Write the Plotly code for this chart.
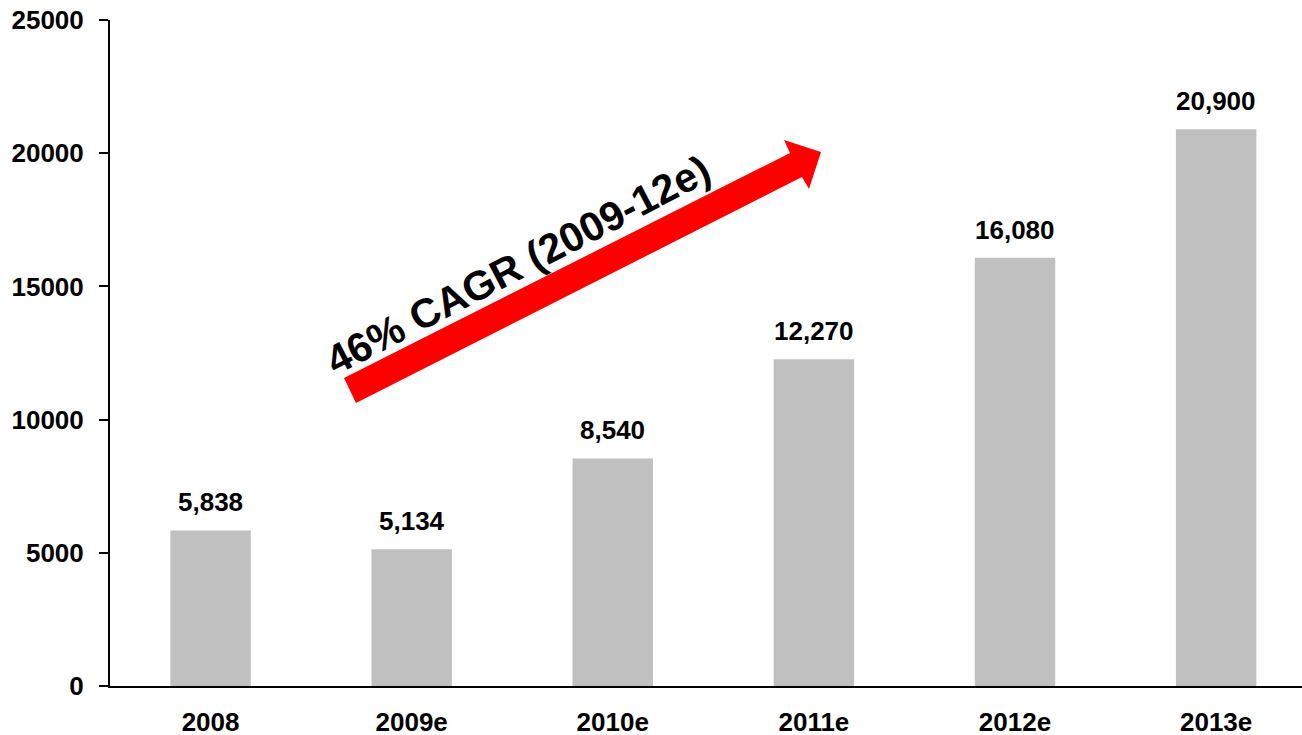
import plotly.graph_objects as go

categories = ["2008", "2009e", "2010e", "2011e", "2012e", "2013e"]
values = [5838, 5134, 8540, 12270, 16080, 20900]
value_labels = ["5,838", "5,134", "8,540", "12,270", "16,080", "20,900"]
y_ticks = [0, 5000, 10000, 15000, 20000, 25000]
arrow_text = "46% CAGR (2009-12e)"

W, H = 1302, 735
L, R, T, B = 110, 0, 20, 49
PW, PH = W - L - R, H - T - B

def px(x, y):
    return (x - L) / PW, (H - B - y) / PH

FONT = "Liberation Sans, Arial, sans-serif"

fig = go.Figure()
fig.add_trace(go.Bar(
    x=list(range(len(categories))), y=values,
    marker=dict(color="#C0C0C0", line=dict(width=0)),
    width=0.4, hoverinfo="skip",
))

for i, (v, t) in enumerate(zip(values, value_labels)):
    fig.add_annotation(x=i, y=v, text=t, showarrow=False, yanchor="bottom",
                       yshift=11, font=dict(family=FONT, size=26, color="black", weight="bold"))

# red arrow (pixel geometry converted to paper coords)
pts = [(344, 378), (790, 153), (784, 140), (821, 152), (809, 189), (802, 177), (356, 403)]
path = ""
for k, (a, b) in enumerate(pts):
    xp, yp = px(a, b)
    path += ("M" if k == 0 else "L") + f"{xp:.5f},{yp:.5f} "
path += "Z"
fig.add_shape(type="path", path=path, xref="paper", yref="paper",
              fillcolor="#FF0000", line=dict(width=0), layer="above")

cx, cy = px(518, 265)
fig.add_annotation(x=cx, y=cy, xref="paper", yref="paper", text=arrow_text,
                   showarrow=False, textangle=-27.5, xanchor="center", yanchor="middle",
                   font=dict(family=FONT, size=41, color="black", weight="bold"))

fig.update_layout(
    width=W, height=H,
    margin=dict(l=L, r=R, t=T, b=B, autoexpand=False),
    plot_bgcolor="white", paper_bgcolor="white",
    showlegend=False, bargap=0.6,
    font=dict(family=FONT, color="black"),
)
fig.update_xaxes(
    range=[-0.5, 5.427], tickmode="array", tickvals=list(range(len(categories))),
    ticktext=categories, showgrid=False, zeroline=False, automargin=False,
    showline=True, linecolor="black", linewidth=2, ticks="",
    tickfont=dict(family=FONT, size=26, color="black", weight="bold"),
    ticklabelstandoff=12,
)
fig.update_yaxes(
    range=[0, 25000], tickmode="array", tickvals=y_ticks, automargin=False,
    ticktext=[str(t) for t in y_ticks], showgrid=False, zeroline=False,
    showline=True, linecolor="black", linewidth=2, ticks="outside",
    ticklen=9, tickwidth=2, tickcolor="black",
    tickfont=dict(family=FONT, size=26, color="black", weight="bold"),
    ticklabelstandoff=10,
)

fig.write_html("out.html", config={"displayModeBar": False},
               post_script="document.body.style.margin='0';document.body.style.overflow='hidden';")
